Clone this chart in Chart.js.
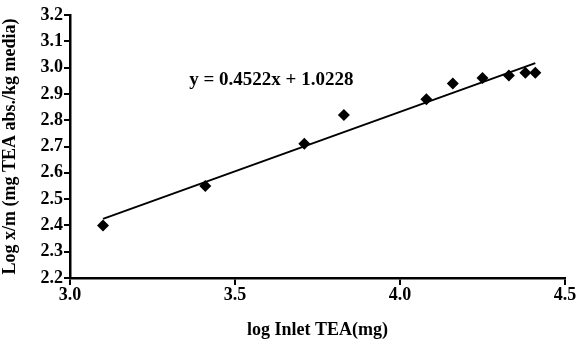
<!DOCTYPE html>
<html>
<head>
<meta charset="utf-8">
<script src="https://cdn.jsdelivr.net/npm/chart.js@4"></script>
<style>
  html, body { margin: 0; padding: 0; background: #fff; }
  #wrap { width: 579px; height: 341px; }
</style>
</head>
<body>
<div id="wrap"><canvas id="isoChart"></canvas></div>
<script>
// values
var inletLog = [3.10, 3.41, 3.71, 3.83, 4.08, 4.16, 4.25, 4.33, 4.38, 4.41];
var logXm = [2.40, 2.55, 2.71, 2.82, 2.88, 2.94, 2.96, 2.97, 2.98, 2.98];
var trendX = [3.10, 4.41];
var trendY = [2.425, 3.017];
var equation = 'y = 0.4522x + 1.0228';
var xTitle = 'log Inlet TEA(mg)';
var yTitle = 'Log x/m (mg TEA abs./kg media)';

var serif = 'Liberation Serif';

var points = [];
for (var i = 0; i < inletLog.length; i++) {
    points.push({ x: inletLog[i], y: logXm[i] });
}
var trend = [];
for (var j = 0; j < trendX.length; j++) {
    trend.push({ x: trendX[j], y: trendY[j] });
}

// draws the equation text inside the plot
var equationLabel = {
    id: 'equationLabel',
    afterDatasetsDraw: function (chart) {
        var ctx = chart.ctx;
        var xs = chart.scales.x, ys = chart.scales.y;
        ctx.save();
        ctx.font = 'bold 19px "' + serif + '"';
        ctx.fillStyle = '#000';
        ctx.textAlign = 'center';
        ctx.textBaseline = 'middle';
        ctx.fillText(equation, xs.getPixelForValue(3.61), ys.getPixelForValue(2.953));
        ctx.restore();
    }
};

var ctx = document.getElementById('isoChart');
var isoChart = new Chart(ctx, {
    type: 'scatter',
    data: {
        datasets: [{
            label: 'data',
            data: points,
            pointStyle: 'rectRot',
            pointRadius: 6,
            pointHoverRadius: 6,
            backgroundColor: '#000',
            borderColor: '#000',
            borderWidth: 0
        }, {
            label: 'trend',
            type: 'line',
            data: trend,
            borderColor: '#000',
            borderWidth: 2,
            pointRadius: 0,
            fill: false
        }]
    },
    options: {
        responsive: true,
        maintainAspectRatio: false,
        animation: false,
        events: [],
        layout: {
            padding: { top: 15, right: 14, left: 0, bottom: 0 }
        },
        plugins: {
            legend: { display: false },
            tooltip: { enabled: false }
        },
        scales: {
            x: {
                type: 'linear',
                min: 3.0,
                max: 4.5,
                afterFit: function (scale) { scale.height = 63; },
                border: { display: true, color: '#000', width: 2.5 },
                grid: {
                    drawOnChartArea: false,
                    drawTicks: true,
                    tickLength: 7,
                    color: '#000',
                    lineWidth: 2
                },
                ticks: {
                    stepSize: 0.5,
                    color: '#000',
                    padding: 0,
                    maxRotation: 0,
                    font: { family: serif, size: 18, weight: 'bold' },
                    callback: function (v) { return Number(v).toFixed(1); }
                },
                title: {
                    display: true,
                    text: xTitle,
                    color: '#000',
                    padding: { top: 6, bottom: 0 },
                    font: { family: serif, size: 18, weight: 'bold' }
                }
            },
            y: {
                type: 'linear',
                min: 2.2,
                max: 3.2,
                afterFit: function (scale) { scale.width = 70; },
                border: { display: true, color: '#000', width: 2.5 },
                grid: {
                    drawOnChartArea: false,
                    drawTicks: true,
                    tickLength: 6,
                    color: '#000',
                    lineWidth: 2
                },
                ticks: {
                    stepSize: 0.1,
                    color: '#000',
                    padding: 1,
                    font: { family: serif, size: 18, weight: 'bold' },
                    callback: function (v) { return Number(v).toFixed(1); }
                },
                title: {
                    display: true,
                    text: yTitle,
                    color: '#000',
                    padding: { top: 0, bottom: 2 },
                    font: { family: serif, size: 18, weight: 'bold' }
                }
            }
        }
    },
    plugins: [equationLabel]
});
</script>
</body>
</html>
